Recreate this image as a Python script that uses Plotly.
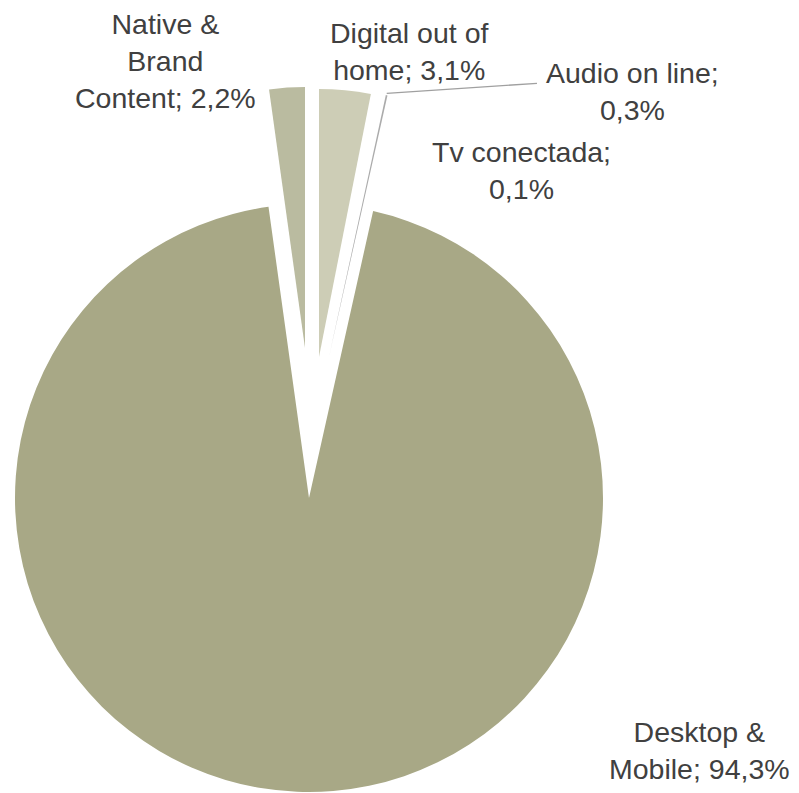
import plotly.graph_objects as go

# ---- data (clockwise from 12 o'clock) ----
categories = ["Digital out of home", "Audio on line", "Tv conectada", "Desktop & Mobile", "Native & Brand Content"]
values = [3.1, 0.3, 0.1, 94.3, 2.2]
# label layout text (line breaks as in the reference)
label_names = ["Digital out of<br>home", "Audio on line", "Tv conectada", "Desktop &<br>Mobile", "Native &<br>Brand<br>Content"]
label_seps = ["; ", ";<br>", ";<br>", "; ", "; "]

# ---- styles ----
colors = ["#CDCDB6", "#FFFFFF", "#ABABAB", "#A8A886", "#BABBA0"]
W, H = 799, 793
# exploded slice centres (px) and radii (px)
centers = [(319, 357), (329, 357), (329, 357), (309, 498), (305, 348)]
radii = [268, 268, 268, 294, 261]
# label centres (px)
label_pos = [(409, 51), (632, 91), (521, 170), (699, 750), (165, 61)]

fig = go.Figure()
for i, cat in enumerate(categories):
    cx, cy = centers[i]
    r = radii[i]
    cols = [colors[j] if j == i else "rgba(0,0,0,0)" for j in range(len(categories))]
    fig.add_trace(go.Pie(
        labels=categories,
        values=values,
        sort=False,
        direction="clockwise",
        rotation=0,
        marker=dict(colors=cols, line=dict(width=0)),
        textinfo="none",
        hoverinfo="label+percent",
        showlegend=False,
        domain=dict(x=[(cx - r) / W, (cx + r) / W],
                    y=[1 - (cy + r) / H, 1 - (cy - r) / H]),
    ))

def fmt(v):
    return f"{v:.1f}".replace(".", ",") + "%"

for i, cat in enumerate(categories):
    x, y = label_pos[i]
    fig.add_annotation(
        x=x / W, y=1 - y / H, xref="paper", yref="paper",
        text=label_names[i] + label_seps[i] + fmt(values[i]),
        showarrow=False, xanchor="center", yanchor="middle", align="center",
        font=dict(family="Liberation Sans, Arial, sans-serif", size=28.5, color="#404040"),
    )

# leader line for "Audio on line"
fig.add_shape(type="line", xref="paper", yref="paper",
              x0=386.7 / W, y0=1 - 93.3 / H, x1=537 / W, y1=1 - 83.3 / H,
              line=dict(color="#A0A0A0", width=1.3))

fig.update_layout(
    width=W, height=H,
    margin=dict(l=0, r=0, t=0, b=0),
    paper_bgcolor="white", plot_bgcolor="white",
)
fig.write_html("out.html",
               config={"displayModeBar": False},
               post_script="document.body.style.margin='0';document.body.style.overflow='hidden';")
